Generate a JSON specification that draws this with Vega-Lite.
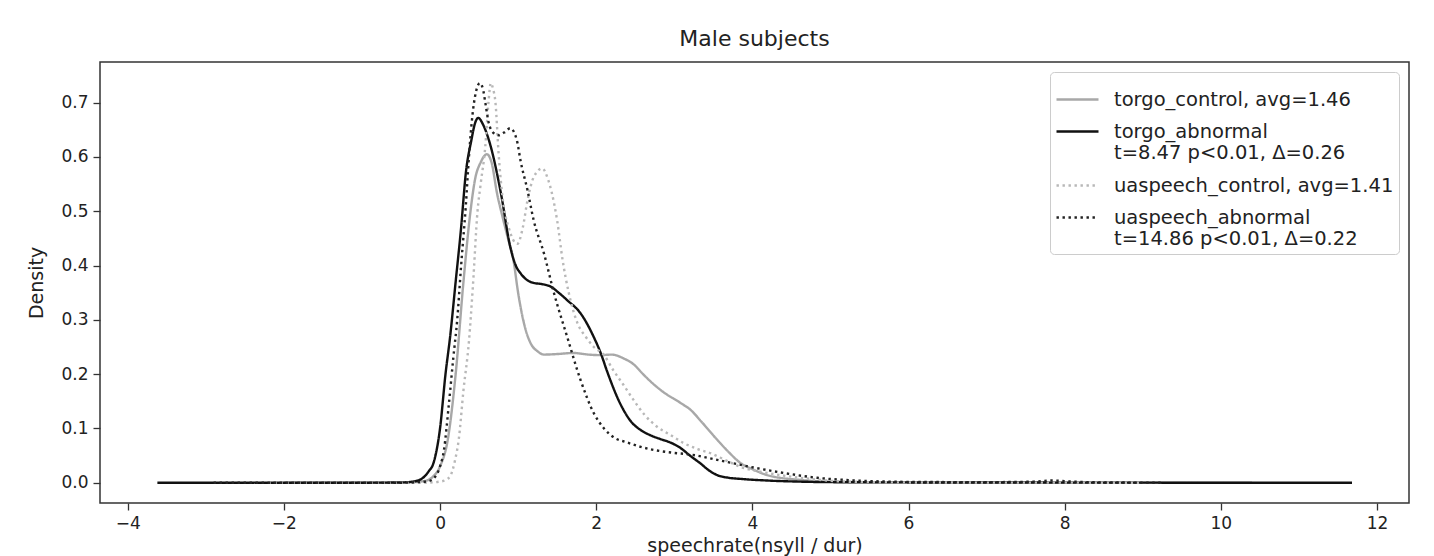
{
  "$schema": "https://vega.github.io/schema/vega-lite/v6.json",
  "width": 1309,
  "height": 441,
  "autosize": {"type": "none"},
  "padding": {"left": 100, "top": 62, "right": 25, "bottom": 53},
  "background": "white",
  "config": {
    "font": "DejaVu Sans",
    "view": {"stroke": "#333333", "strokeWidth": 1.5},
    "axis": {"grid": false, "domain": false, "tickColor": "#333333", "tickSize": 7, "tickWidth": 1.3, "labelFont": "DejaVu Sans", "labelFontSize": 17, "labelColor": "#222222", "titleFont": "DejaVu Sans", "titleFontSize": 19, "titleFontWeight": "normal", "titleColor": "#222222", "labelPadding": 5}
  },
  "title": {"text": "Male subjects", "fontSize": 22, "fontWeight": "normal", "font": "DejaVu Sans", "color": "#222222", "offset": 11},
  "data": {"values": [
    {"s": "torgo_control, avg=1.46", "x": -2.0, "y": 0},
    {"s": "torgo_control, avg=1.46", "x": -0.5, "y": 0},
    {"s": "torgo_control, avg=1.46", "x": -0.2, "y": 0.003},
    {"s": "torgo_control, avg=1.46", "x": -0.1, "y": 0.01},
    {"s": "torgo_control, avg=1.46", "x": 0.0, "y": 0.03},
    {"s": "torgo_control, avg=1.46", "x": 0.1, "y": 0.08},
    {"s": "torgo_control, avg=1.46", "x": 0.2, "y": 0.2},
    {"s": "torgo_control, avg=1.46", "x": 0.3, "y": 0.37},
    {"s": "torgo_control, avg=1.46", "x": 0.39, "y": 0.5},
    {"s": "torgo_control, avg=1.46", "x": 0.45, "y": 0.56},
    {"s": "torgo_control, avg=1.46", "x": 0.52, "y": 0.59},
    {"s": "torgo_control, avg=1.46", "x": 0.6, "y": 0.605},
    {"s": "torgo_control, avg=1.46", "x": 0.66, "y": 0.59},
    {"s": "torgo_control, avg=1.46", "x": 0.73, "y": 0.533},
    {"s": "torgo_control, avg=1.46", "x": 0.8, "y": 0.49},
    {"s": "torgo_control, avg=1.46", "x": 0.87, "y": 0.45},
    {"s": "torgo_control, avg=1.46", "x": 0.94, "y": 0.41},
    {"s": "torgo_control, avg=1.46", "x": 1.0, "y": 0.35},
    {"s": "torgo_control, avg=1.46", "x": 1.05, "y": 0.31},
    {"s": "torgo_control, avg=1.46", "x": 1.1, "y": 0.28},
    {"s": "torgo_control, avg=1.46", "x": 1.16, "y": 0.257},
    {"s": "torgo_control, avg=1.46", "x": 1.25, "y": 0.242},
    {"s": "torgo_control, avg=1.46", "x": 1.33, "y": 0.236},
    {"s": "torgo_control, avg=1.46", "x": 1.5, "y": 0.237},
    {"s": "torgo_control, avg=1.46", "x": 1.71, "y": 0.239},
    {"s": "torgo_control, avg=1.46", "x": 1.9, "y": 0.236},
    {"s": "torgo_control, avg=1.46", "x": 2.05, "y": 0.235},
    {"s": "torgo_control, avg=1.46", "x": 2.2, "y": 0.236},
    {"s": "torgo_control, avg=1.46", "x": 2.35, "y": 0.229},
    {"s": "torgo_control, avg=1.46", "x": 2.48, "y": 0.218},
    {"s": "torgo_control, avg=1.46", "x": 2.6, "y": 0.2},
    {"s": "torgo_control, avg=1.46", "x": 2.7, "y": 0.186},
    {"s": "torgo_control, avg=1.46", "x": 2.85, "y": 0.168},
    {"s": "torgo_control, avg=1.46", "x": 3.08, "y": 0.147},
    {"s": "torgo_control, avg=1.46", "x": 3.21, "y": 0.134},
    {"s": "torgo_control, avg=1.46", "x": 3.35, "y": 0.112},
    {"s": "torgo_control, avg=1.46", "x": 3.55, "y": 0.079},
    {"s": "torgo_control, avg=1.46", "x": 3.7, "y": 0.056},
    {"s": "torgo_control, avg=1.46", "x": 3.85, "y": 0.036},
    {"s": "torgo_control, avg=1.46", "x": 4.0, "y": 0.025},
    {"s": "torgo_control, avg=1.46", "x": 4.19, "y": 0.014},
    {"s": "torgo_control, avg=1.46", "x": 4.62, "y": 0.005},
    {"s": "torgo_control, avg=1.46", "x": 5.0, "y": 0.002},
    {"s": "torgo_control, avg=1.46", "x": 6.0, "y": 0.0005},
    {"s": "torgo_control, avg=1.46", "x": 8.0, "y": 0.0002},
    {"s": "torgo_control, avg=1.46", "x": 10.4, "y": 0},

    {"s": "torgo_abnormal|t=8.47 p<0.01, Δ=0.26", "x": -3.62, "y": 0},
    {"s": "torgo_abnormal|t=8.47 p<0.01, Δ=0.26", "x": -1.0, "y": 0},
    {"s": "torgo_abnormal|t=8.47 p<0.01, Δ=0.26", "x": -0.5, "y": 0.0005},
    {"s": "torgo_abnormal|t=8.47 p<0.01, Δ=0.26", "x": -0.35, "y": 0.002},
    {"s": "torgo_abnormal|t=8.47 p<0.01, Δ=0.26", "x": -0.25, "y": 0.006},
    {"s": "torgo_abnormal|t=8.47 p<0.01, Δ=0.26", "x": -0.15, "y": 0.02},
    {"s": "torgo_abnormal|t=8.47 p<0.01, Δ=0.26", "x": -0.08, "y": 0.038},
    {"s": "torgo_abnormal|t=8.47 p<0.01, Δ=0.26", "x": 0.0, "y": 0.1},
    {"s": "torgo_abnormal|t=8.47 p<0.01, Δ=0.26", "x": 0.07, "y": 0.2},
    {"s": "torgo_abnormal|t=8.47 p<0.01, Δ=0.26", "x": 0.13, "y": 0.27},
    {"s": "torgo_abnormal|t=8.47 p<0.01, Δ=0.26", "x": 0.2, "y": 0.37},
    {"s": "torgo_abnormal|t=8.47 p<0.01, Δ=0.26", "x": 0.27, "y": 0.47},
    {"s": "torgo_abnormal|t=8.47 p<0.01, Δ=0.26", "x": 0.33, "y": 0.57},
    {"s": "torgo_abnormal|t=8.47 p<0.01, Δ=0.26", "x": 0.4, "y": 0.63},
    {"s": "torgo_abnormal|t=8.47 p<0.01, Δ=0.26", "x": 0.45, "y": 0.663},
    {"s": "torgo_abnormal|t=8.47 p<0.01, Δ=0.26", "x": 0.49, "y": 0.672},
    {"s": "torgo_abnormal|t=8.47 p<0.01, Δ=0.26", "x": 0.55, "y": 0.66},
    {"s": "torgo_abnormal|t=8.47 p<0.01, Δ=0.26", "x": 0.65, "y": 0.619},
    {"s": "torgo_abnormal|t=8.47 p<0.01, Δ=0.26", "x": 0.78, "y": 0.533},
    {"s": "torgo_abnormal|t=8.47 p<0.01, Δ=0.26", "x": 0.9, "y": 0.434},
    {"s": "torgo_abnormal|t=8.47 p<0.01, Δ=0.26", "x": 0.97, "y": 0.4},
    {"s": "torgo_abnormal|t=8.47 p<0.01, Δ=0.26", "x": 1.03, "y": 0.386},
    {"s": "torgo_abnormal|t=8.47 p<0.01, Δ=0.26", "x": 1.1, "y": 0.375},
    {"s": "torgo_abnormal|t=8.47 p<0.01, Δ=0.26", "x": 1.2, "y": 0.368},
    {"s": "torgo_abnormal|t=8.47 p<0.01, Δ=0.26", "x": 1.3, "y": 0.366},
    {"s": "torgo_abnormal|t=8.47 p<0.01, Δ=0.26", "x": 1.42, "y": 0.361},
    {"s": "torgo_abnormal|t=8.47 p<0.01, Δ=0.26", "x": 1.52, "y": 0.35},
    {"s": "torgo_abnormal|t=8.47 p<0.01, Δ=0.26", "x": 1.63, "y": 0.336},
    {"s": "torgo_abnormal|t=8.47 p<0.01, Δ=0.26", "x": 1.8, "y": 0.312},
    {"s": "torgo_abnormal|t=8.47 p<0.01, Δ=0.26", "x": 1.97, "y": 0.268},
    {"s": "torgo_abnormal|t=8.47 p<0.01, Δ=0.26", "x": 2.06, "y": 0.238},
    {"s": "torgo_abnormal|t=8.47 p<0.01, Δ=0.26", "x": 2.14, "y": 0.205},
    {"s": "torgo_abnormal|t=8.47 p<0.01, Δ=0.26", "x": 2.31, "y": 0.145},
    {"s": "torgo_abnormal|t=8.47 p<0.01, Δ=0.26", "x": 2.45, "y": 0.112},
    {"s": "torgo_abnormal|t=8.47 p<0.01, Δ=0.26", "x": 2.57, "y": 0.097},
    {"s": "torgo_abnormal|t=8.47 p<0.01, Δ=0.26", "x": 2.7, "y": 0.087},
    {"s": "torgo_abnormal|t=8.47 p<0.01, Δ=0.26", "x": 2.83, "y": 0.08},
    {"s": "torgo_abnormal|t=8.47 p<0.01, Δ=0.26", "x": 2.95, "y": 0.074},
    {"s": "torgo_abnormal|t=8.47 p<0.01, Δ=0.26", "x": 3.08, "y": 0.064},
    {"s": "torgo_abnormal|t=8.47 p<0.01, Δ=0.26", "x": 3.2, "y": 0.05},
    {"s": "torgo_abnormal|t=8.47 p<0.01, Δ=0.26", "x": 3.34, "y": 0.035},
    {"s": "torgo_abnormal|t=8.47 p<0.01, Δ=0.26", "x": 3.45, "y": 0.022},
    {"s": "torgo_abnormal|t=8.47 p<0.01, Δ=0.26", "x": 3.55, "y": 0.014},
    {"s": "torgo_abnormal|t=8.47 p<0.01, Δ=0.26", "x": 3.7, "y": 0.009},
    {"s": "torgo_abnormal|t=8.47 p<0.01, Δ=0.26", "x": 3.85, "y": 0.007},
    {"s": "torgo_abnormal|t=8.47 p<0.01, Δ=0.26", "x": 4.19, "y": 0.004},
    {"s": "torgo_abnormal|t=8.47 p<0.01, Δ=0.26", "x": 4.6, "y": 0.002},
    {"s": "torgo_abnormal|t=8.47 p<0.01, Δ=0.26", "x": 5.0, "y": 0.001},
    {"s": "torgo_abnormal|t=8.47 p<0.01, Δ=0.26", "x": 6.0, "y": 0.0005},
    {"s": "torgo_abnormal|t=8.47 p<0.01, Δ=0.26", "x": 8.0, "y": 0.0002},
    {"s": "torgo_abnormal|t=8.47 p<0.01, Δ=0.26", "x": 10.0, "y": 0},
    {"s": "torgo_abnormal|t=8.47 p<0.01, Δ=0.26", "x": 11.68, "y": 0},

    {"s": "uaspeech_control, avg=1.41", "x": -2.2, "y": 0},
    {"s": "uaspeech_control, avg=1.41", "x": -0.2, "y": 0},
    {"s": "uaspeech_control, avg=1.41", "x": 0.0, "y": 0.002},
    {"s": "uaspeech_control, avg=1.41", "x": 0.07, "y": 0.005},
    {"s": "uaspeech_control, avg=1.41", "x": 0.13, "y": 0.012},
    {"s": "uaspeech_control, avg=1.41", "x": 0.19, "y": 0.04},
    {"s": "uaspeech_control, avg=1.41", "x": 0.24, "y": 0.08},
    {"s": "uaspeech_control, avg=1.41", "x": 0.3, "y": 0.17},
    {"s": "uaspeech_control, avg=1.41", "x": 0.37, "y": 0.26},
    {"s": "uaspeech_control, avg=1.41", "x": 0.42, "y": 0.36},
    {"s": "uaspeech_control, avg=1.41", "x": 0.48, "y": 0.5},
    {"s": "uaspeech_control, avg=1.41", "x": 0.52, "y": 0.55},
    {"s": "uaspeech_control, avg=1.41", "x": 0.58, "y": 0.62},
    {"s": "uaspeech_control, avg=1.41", "x": 0.62, "y": 0.7},
    {"s": "uaspeech_control, avg=1.41", "x": 0.65, "y": 0.736},
    {"s": "uaspeech_control, avg=1.41", "x": 0.68, "y": 0.725},
    {"s": "uaspeech_control, avg=1.41", "x": 0.71, "y": 0.7},
    {"s": "uaspeech_control, avg=1.41", "x": 0.75, "y": 0.607},
    {"s": "uaspeech_control, avg=1.41", "x": 0.8, "y": 0.526},
    {"s": "uaspeech_control, avg=1.41", "x": 0.88, "y": 0.47},
    {"s": "uaspeech_control, avg=1.41", "x": 0.99, "y": 0.44},
    {"s": "uaspeech_control, avg=1.41", "x": 1.06, "y": 0.47},
    {"s": "uaspeech_control, avg=1.41", "x": 1.12, "y": 0.52},
    {"s": "uaspeech_control, avg=1.41", "x": 1.2, "y": 0.563},
    {"s": "uaspeech_control, avg=1.41", "x": 1.31, "y": 0.579},
    {"s": "uaspeech_control, avg=1.41", "x": 1.38, "y": 0.56},
    {"s": "uaspeech_control, avg=1.41", "x": 1.43, "y": 0.535},
    {"s": "uaspeech_control, avg=1.41", "x": 1.5, "y": 0.483},
    {"s": "uaspeech_control, avg=1.41", "x": 1.57, "y": 0.41},
    {"s": "uaspeech_control, avg=1.41", "x": 1.65, "y": 0.349},
    {"s": "uaspeech_control, avg=1.41", "x": 1.76, "y": 0.294},
    {"s": "uaspeech_control, avg=1.41", "x": 1.87, "y": 0.268},
    {"s": "uaspeech_control, avg=1.41", "x": 1.97, "y": 0.25},
    {"s": "uaspeech_control, avg=1.41", "x": 2.1, "y": 0.235},
    {"s": "uaspeech_control, avg=1.41", "x": 2.22, "y": 0.207},
    {"s": "uaspeech_control, avg=1.41", "x": 2.35, "y": 0.18},
    {"s": "uaspeech_control, avg=1.41", "x": 2.48, "y": 0.152},
    {"s": "uaspeech_control, avg=1.41", "x": 2.62, "y": 0.125},
    {"s": "uaspeech_control, avg=1.41", "x": 2.78, "y": 0.103},
    {"s": "uaspeech_control, avg=1.41", "x": 2.95, "y": 0.088},
    {"s": "uaspeech_control, avg=1.41", "x": 3.12, "y": 0.073},
    {"s": "uaspeech_control, avg=1.41", "x": 3.3, "y": 0.062},
    {"s": "uaspeech_control, avg=1.41", "x": 3.47, "y": 0.054},
    {"s": "uaspeech_control, avg=1.41", "x": 3.65, "y": 0.042},
    {"s": "uaspeech_control, avg=1.41", "x": 3.85, "y": 0.029},
    {"s": "uaspeech_control, avg=1.41", "x": 4.19, "y": 0.018},
    {"s": "uaspeech_control, avg=1.41", "x": 4.62, "y": 0.009},
    {"s": "uaspeech_control, avg=1.41", "x": 5.05, "y": 0.003},
    {"s": "uaspeech_control, avg=1.41", "x": 5.5, "y": 0.001},
    {"s": "uaspeech_control, avg=1.41", "x": 6.5, "y": 0.0003},
    {"s": "uaspeech_control, avg=1.41", "x": 9.0, "y": 0},

    {"s": "uaspeech_abnormal|t=14.86 p<0.01, Δ=0.22", "x": -2.9, "y": 0},
    {"s": "uaspeech_abnormal|t=14.86 p<0.01, Δ=0.22", "x": -0.5, "y": 0},
    {"s": "uaspeech_abnormal|t=14.86 p<0.01, Δ=0.22", "x": -0.3, "y": 0.001},
    {"s": "uaspeech_abnormal|t=14.86 p<0.01, Δ=0.22", "x": -0.15, "y": 0.003},
    {"s": "uaspeech_abnormal|t=14.86 p<0.01, Δ=0.22", "x": -0.08, "y": 0.008},
    {"s": "uaspeech_abnormal|t=14.86 p<0.01, Δ=0.22", "x": 0.0, "y": 0.03},
    {"s": "uaspeech_abnormal|t=14.86 p<0.01, Δ=0.22", "x": 0.05, "y": 0.06},
    {"s": "uaspeech_abnormal|t=14.86 p<0.01, Δ=0.22", "x": 0.11, "y": 0.14},
    {"s": "uaspeech_abnormal|t=14.86 p<0.01, Δ=0.22", "x": 0.17, "y": 0.23},
    {"s": "uaspeech_abnormal|t=14.86 p<0.01, Δ=0.22", "x": 0.22, "y": 0.3},
    {"s": "uaspeech_abnormal|t=14.86 p<0.01, Δ=0.22", "x": 0.27, "y": 0.4},
    {"s": "uaspeech_abnormal|t=14.86 p<0.01, Δ=0.22", "x": 0.33, "y": 0.51},
    {"s": "uaspeech_abnormal|t=14.86 p<0.01, Δ=0.22", "x": 0.37, "y": 0.6},
    {"s": "uaspeech_abnormal|t=14.86 p<0.01, Δ=0.22", "x": 0.41, "y": 0.67},
    {"s": "uaspeech_abnormal|t=14.86 p<0.01, Δ=0.22", "x": 0.46, "y": 0.72},
    {"s": "uaspeech_abnormal|t=14.86 p<0.01, Δ=0.22", "x": 0.51, "y": 0.736},
    {"s": "uaspeech_abnormal|t=14.86 p<0.01, Δ=0.22", "x": 0.55, "y": 0.725},
    {"s": "uaspeech_abnormal|t=14.86 p<0.01, Δ=0.22", "x": 0.58, "y": 0.7},
    {"s": "uaspeech_abnormal|t=14.86 p<0.01, Δ=0.22", "x": 0.62, "y": 0.665},
    {"s": "uaspeech_abnormal|t=14.86 p<0.01, Δ=0.22", "x": 0.68, "y": 0.645},
    {"s": "uaspeech_abnormal|t=14.86 p<0.01, Δ=0.22", "x": 0.75, "y": 0.64},
    {"s": "uaspeech_abnormal|t=14.86 p<0.01, Δ=0.22", "x": 0.82, "y": 0.645},
    {"s": "uaspeech_abnormal|t=14.86 p<0.01, Δ=0.22", "x": 0.9, "y": 0.653},
    {"s": "uaspeech_abnormal|t=14.86 p<0.01, Δ=0.22", "x": 0.95, "y": 0.645},
    {"s": "uaspeech_abnormal|t=14.86 p<0.01, Δ=0.22", "x": 0.99, "y": 0.627},
    {"s": "uaspeech_abnormal|t=14.86 p<0.01, Δ=0.22", "x": 1.03, "y": 0.594},
    {"s": "uaspeech_abnormal|t=14.86 p<0.01, Δ=0.22", "x": 1.12, "y": 0.539},
    {"s": "uaspeech_abnormal|t=14.86 p<0.01, Δ=0.22", "x": 1.2, "y": 0.483},
    {"s": "uaspeech_abnormal|t=14.86 p<0.01, Δ=0.22", "x": 1.33, "y": 0.423},
    {"s": "uaspeech_abnormal|t=14.86 p<0.01, Δ=0.22", "x": 1.46, "y": 0.349},
    {"s": "uaspeech_abnormal|t=14.86 p<0.01, Δ=0.22", "x": 1.63, "y": 0.268},
    {"s": "uaspeech_abnormal|t=14.86 p<0.01, Δ=0.22", "x": 1.8, "y": 0.189},
    {"s": "uaspeech_abnormal|t=14.86 p<0.01, Δ=0.22", "x": 1.97, "y": 0.128},
    {"s": "uaspeech_abnormal|t=14.86 p<0.01, Δ=0.22", "x": 2.1, "y": 0.1},
    {"s": "uaspeech_abnormal|t=14.86 p<0.01, Δ=0.22", "x": 2.22, "y": 0.084},
    {"s": "uaspeech_abnormal|t=14.86 p<0.01, Δ=0.22", "x": 2.4, "y": 0.074},
    {"s": "uaspeech_abnormal|t=14.86 p<0.01, Δ=0.22", "x": 2.57, "y": 0.066},
    {"s": "uaspeech_abnormal|t=14.86 p<0.01, Δ=0.22", "x": 2.75, "y": 0.06},
    {"s": "uaspeech_abnormal|t=14.86 p<0.01, Δ=0.22", "x": 2.99, "y": 0.055},
    {"s": "uaspeech_abnormal|t=14.86 p<0.01, Δ=0.22", "x": 3.2, "y": 0.052},
    {"s": "uaspeech_abnormal|t=14.86 p<0.01, Δ=0.22", "x": 3.55, "y": 0.042},
    {"s": "uaspeech_abnormal|t=14.86 p<0.01, Δ=0.22", "x": 3.98, "y": 0.029},
    {"s": "uaspeech_abnormal|t=14.86 p<0.01, Δ=0.22", "x": 4.4, "y": 0.018},
    {"s": "uaspeech_abnormal|t=14.86 p<0.01, Δ=0.22", "x": 4.83, "y": 0.009},
    {"s": "uaspeech_abnormal|t=14.86 p<0.01, Δ=0.22", "x": 5.2, "y": 0.005},
    {"s": "uaspeech_abnormal|t=14.86 p<0.01, Δ=0.22", "x": 5.5, "y": 0.003},
    {"s": "uaspeech_abnormal|t=14.86 p<0.01, Δ=0.22", "x": 6.0, "y": 0.0015},
    {"s": "uaspeech_abnormal|t=14.86 p<0.01, Δ=0.22", "x": 7.0, "y": 0.001},
    {"s": "uaspeech_abnormal|t=14.86 p<0.01, Δ=0.22", "x": 7.6, "y": 0.002},
    {"s": "uaspeech_abnormal|t=14.86 p<0.01, Δ=0.22", "x": 7.85, "y": 0.004},
    {"s": "uaspeech_abnormal|t=14.86 p<0.01, Δ=0.22", "x": 8.1, "y": 0.002},
    {"s": "uaspeech_abnormal|t=14.86 p<0.01, Δ=0.22", "x": 8.5, "y": 0.0005},
    {"s": "uaspeech_abnormal|t=14.86 p<0.01, Δ=0.22", "x": 9.25, "y": 0}
  ]},
  "mark": {"type": "line", "interpolate": "monotone", "strokeWidth": 2.4, "clip": true},
  "encoding": {
    "x": {"field": "x", "type": "quantitative", "scale": {"domain": [-4.355, 12.41], "nice": false, "zero": false},
      "axis": {"values": [-4, -2, 0, 2, 4, 6, 8, 10, 12], "title": "speechrate(nsyll / dur)", "titlePadding": 5}},
    "y": {"field": "y", "type": "quantitative", "scale": {"domain": [-0.0374, 0.775], "nice": false, "zero": false},
      "axis": {"values": [0, 0.1, 0.2, 0.3, 0.4, 0.5, 0.6, 0.7], "format": ".1f", "title": "Density", "titlePadding": 14}},
    "stroke": {"field": "s", "type": "nominal",
      "scale": {"domain": ["torgo_control, avg=1.46", "torgo_abnormal|t=8.47 p<0.01, Δ=0.26", "uaspeech_control, avg=1.41", "uaspeech_abnormal|t=14.86 p<0.01, Δ=0.22"],
                "range": ["#a8a8a8", "#111111", "#b8b8b8", "#222222"]},
      "legend": {"title": null, "orient": "top-right", "offset": 10, "fillColor": "white", "strokeColor": "#cccccc", "cornerRadius": 4, "padding": 5,
        "symbolType": "stroke", "symbolSize": 1764, "symbolStrokeWidth": 2.4, "labelFontSize": 19.5, "labelFont": "DejaVu Sans", "labelColor": "#222222", "labelOffset": 14, "rowPadding": -3, "labelLimit": 400,
        "labelExpr": "split(datum.label, '|')"}},
    "strokeDash": {"field": "s", "type": "nominal",
      "scale": {"domain": ["torgo_control, avg=1.46", "torgo_abnormal|t=8.47 p<0.01, Δ=0.26", "uaspeech_control, avg=1.41", "uaspeech_abnormal|t=14.86 p<0.01, Δ=0.22"],
                "range": [[1, 0], [1, 0], [2.4, 3.6], [2.4, 3.6]]},
      "legend": null}
  }
}
